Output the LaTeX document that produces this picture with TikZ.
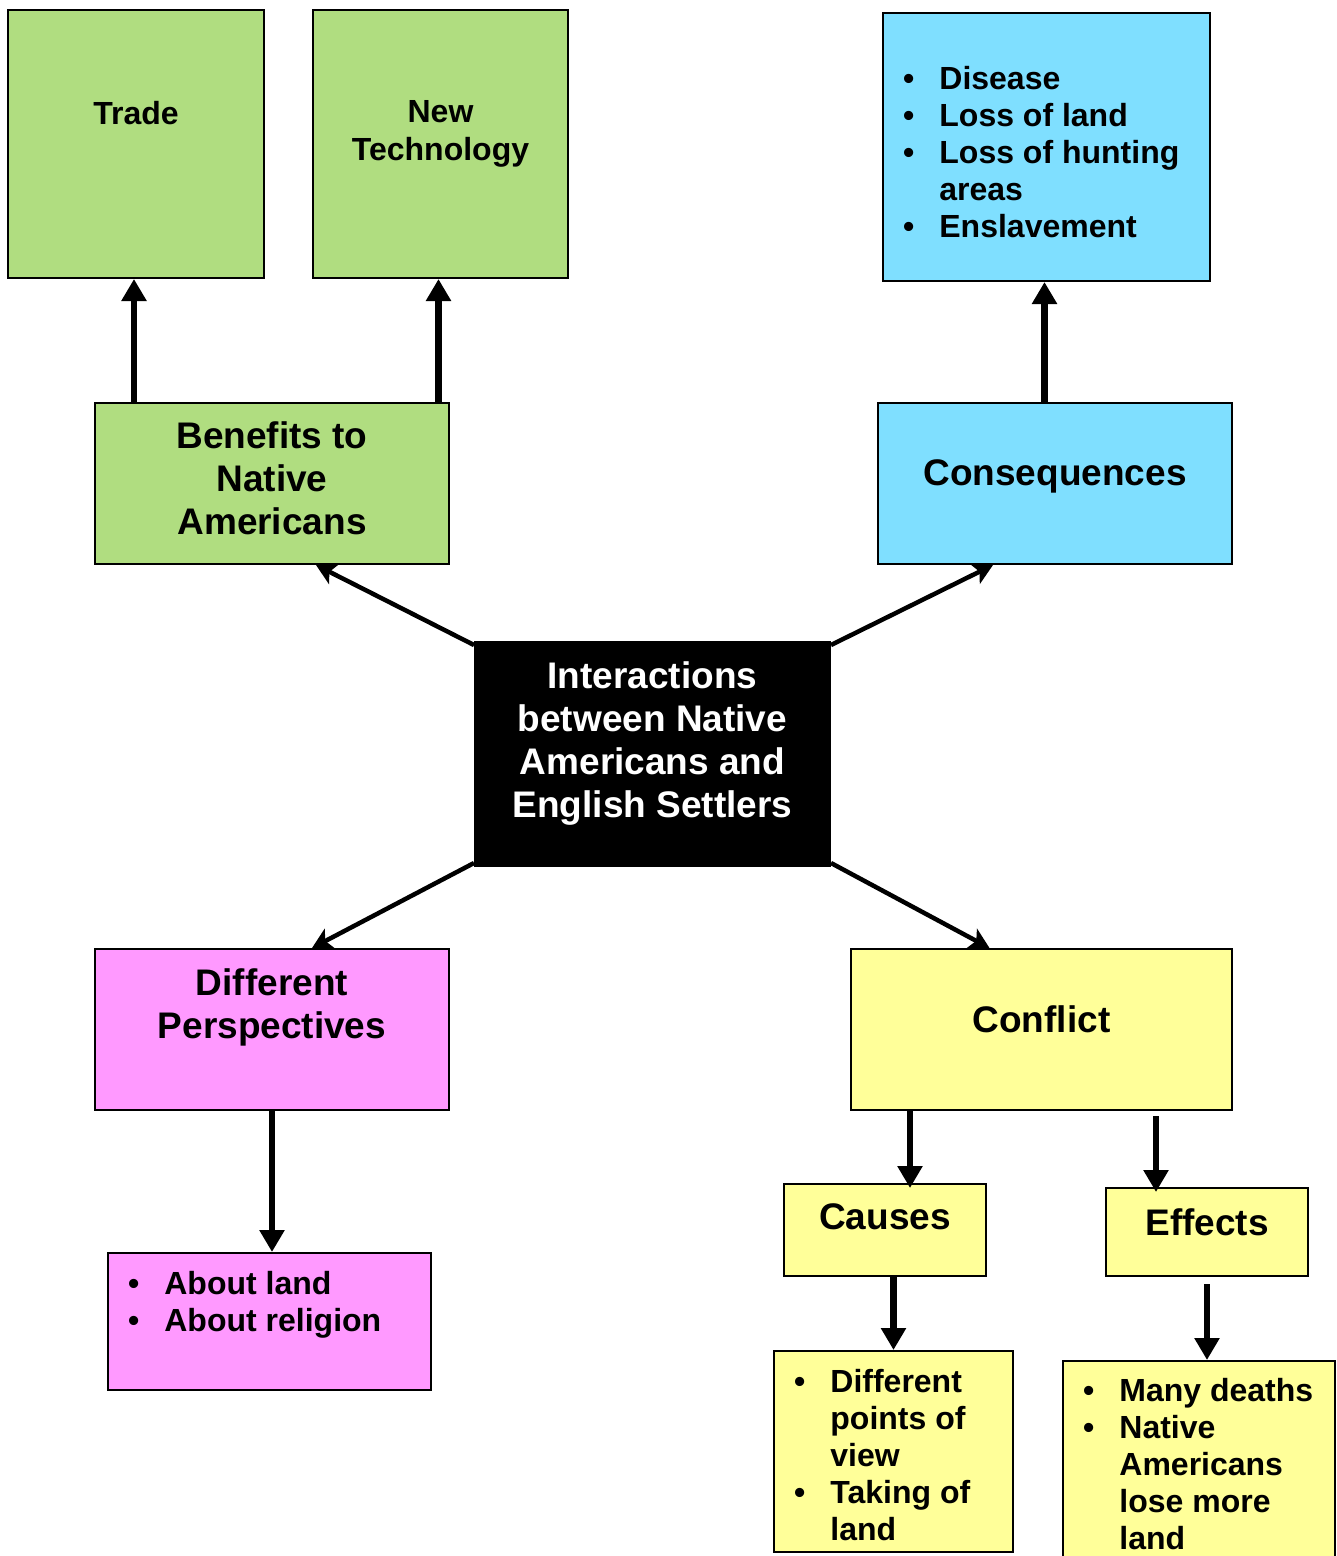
\documentclass[tikz,border=0pt]{standalone}
\usepackage{fontspec}
\setmainfont{Liberation Sans}
\usetikzlibrary{arrows.meta}

\definecolor{leafgreen}{RGB}{176,221,128}
\definecolor{skyblue}{RGB}{127,223,255}
\definecolor{pinkish}{RGB}{255,153,255}
\definecolor{paleyellow}{RGB}{255,255,153}

\newcommand{\bulletrows}[1]{\begin{tabular}{@{}l@{\hspace{25pt}}l@{}}#1\end{tabular}}

\tikzset{
  box/.style={draw=black,line width=2pt,inner sep=0pt},
  bigtitle/.style={inner sep=0pt,anchor=north,align=center,font=\fontsize{37}{43}\selectfont\bfseries},
  midtitle/.style={inner sep=0pt,anchor=north,align=center,font=\fontsize{32}{38}\selectfont\bfseries},
  bullets/.style={inner sep=0pt,anchor=north west,xshift=21,font=\fontsize{32}{37}\selectfont\bfseries},
  vlink/.style={line width=6.5pt,-{Triangle[width=24pt,length=22pt]}},
  dlink/.style={line width=4.5pt,-{Stealth[width=22pt,length=20pt,inset=5pt]}}
}

\begin{document}
\begin{tikzpicture}[x=1pt,y=-1pt]
\useasboundingbox (0,0) rectangle (1337,1556);
\clip (0,0) rectangle (1337,1556);

% top row
\node[box,fill=leafgreen,minimum width=256,minimum height=268,
  label={[midtitle,yshift=-92]north:Trade}] (trade) at (136,144) {};
\node[box,fill=leafgreen,minimum width=255,minimum height=268,
  label={[midtitle,yshift=-91]north:{New\\Technology}}] (newtech) at (440.5,144) {};
\node[box,fill=skyblue,minimum width=327,minimum height=268,
  label={[bullets,yshift=-51.5]north west:{\bulletrows{\textbullet & Disease\\
    \textbullet & Loss of land\\ \textbullet & Loss of hunting\\ & areas\\
    \textbullet & Enslavement}}}] (losses) at (1046.5,147) {};

% second row
\node[box,fill=leafgreen,minimum width=354,minimum height=161,
  label={[bigtitle,yshift=-19.5]north:{Benefits to\\Native\\Americans}}] (benefits) at (272,483.5) {};
\node[box,fill=skyblue,minimum width=354,minimum height=161,
  label={[bigtitle,yshift=-57.5]north:Consequences}] (consequences) at (1055,483.5) {};

% centre
\node[box,fill=black,minimum width=355,minimum height=224,
  label={[bigtitle,text=white,yshift=-20.5]north:{Interactions\\between Native\\Americans and\\English Settlers}}] (center) at (652.5,754) {};

% lower row
\node[box,fill=pinkish,minimum width=354,minimum height=161,
  label={[bigtitle,yshift=-20.5]north:{Different\\Perspectives}}] (persp) at (272,1029.5) {};
\node[box,fill=paleyellow,minimum width=381,minimum height=161,
  label={[bigtitle,yshift=-57.5]north:Conflict}] (conflict) at (1041.5,1029.5) {};
\node[box,fill=paleyellow,minimum width=202,minimum height=92,
  label={[bigtitle,yshift=-20.5]north:Causes}] (causes) at (885,1230) {};
\node[box,fill=paleyellow,minimum width=202,minimum height=88,
  label={[bigtitle,yshift=-21.5]north:Effects}] (effects) at (1207,1232) {};

% bottom lists
\node[box,fill=pinkish,minimum width=323,minimum height=137,
  label={[bullets,yshift=-16.5]north west:{\bulletrows{\textbullet & About land\\
    \textbullet & About religion}}}] (aboutland) at (269.5,1321.5) {};
\node[box,fill=paleyellow,minimum width=239,minimum height=201,
  label={[bullets,yshift=-16.5]north west:{\bulletrows{\textbullet & Different\\
    & points of\\ & view\\ \textbullet & Taking of\\ & land}}}] (diffpts) at (893.5,1451.5) {};
\node[box,fill=paleyellow,minimum width=272,minimum height=219,
  label={[bullets,yshift=-15.5]north west:{\bulletrows{\textbullet & Many deaths\\
    \textbullet & Native\\ & Americans\\ & lose more\\ & land}}}] (deaths) at (1199,1470.5) {};

% links
\draw[vlink] ([xshift=-2]benefits.north -| trade.south) -- ([xshift=-2]trade.south);
\draw[vlink] ([xshift=-2]benefits.north -| newtech.south) -- ([xshift=-2]newtech.south);
\draw[vlink] ([xshift=-2]consequences.north -| losses.south) -- ([xshift=-2]losses.south);

\draw[dlink] ([yshift=-4]center.north west) -- ([xshift=44]benefits.south);
\draw[dlink] ([yshift=-4]center.north east) -- ([xshift=-62]consequences.south);
\draw[dlink] ([yshift=4]center.south west) -- ([xshift=40]persp.north);
\draw[dlink] ([yshift=4]center.south east) -- ([xshift=-52]conflict.north);

\draw[vlink] (persp.south) -- (persp.south |- aboutland.north);
\draw[vlink] ([xshift=25]causes.north |- conflict.south) -- ([xshift=25,yshift=-5]causes.north);
\draw[vlink] ([xshift=-51,yshift=-5]effects.north |- conflict.south) -- ([xshift=-51,yshift=-5]effects.north);
\draw[vlink] (causes.south -| diffpts.north) -- (diffpts.north);
\draw[vlink] ([yshift=-7]effects.south) -- (effects.south |- deaths.north);
\end{tikzpicture}
\end{document}
